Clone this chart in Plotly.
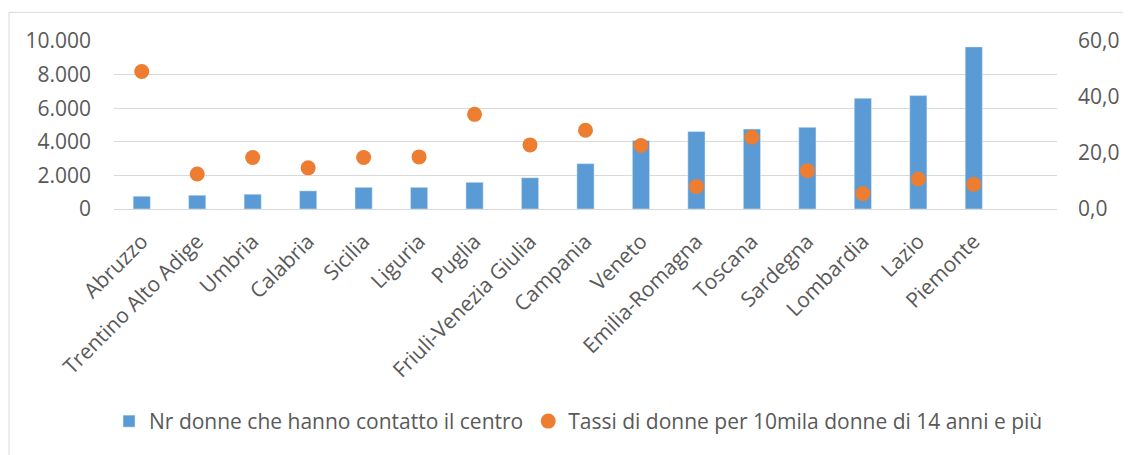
import plotly.graph_objects as go

regions = ["Abruzzo", "Trentino Alto Adige", "Umbria", "Calabria", "Sicilia", "Liguria",
           "Puglia", "Friuli-Venezia Giulia", "Campania", "Veneto", "Emilia-Romagna",
           "Toscana", "Sardegna", "Lombardia", "Lazio", "Piemonte"]
nr_donne = [760, 820, 880, 1080, 1290, 1290, 1590, 1860, 2700, 4080, 4610, 4760, 4860, 6590, 6750, 9650]
tassi = [49.1, 12.5, 18.4, 14.7, 18.4, 18.6, 33.8, 22.9, 28.1, 22.7, 8.0, 25.6, 13.7, 5.5, 10.7, 8.8]

left_tickvals = [0, 2000, 4000, 6000, 8000, 10000]
left_ticktext = ["0", "2.000", "4.000", "6.000", "8.000", "10.000"]
right_tickvals = [0, 20, 40, 60]
right_ticktext = ["0,0", "20,0", "40,0", "60,0"]

name_bar = "Nr donne che hanno contatto il centro"
name_dot = "Tassi di donne per 10mila donne di 14 anni e più"

# page body has an 8px margin: work in page pixels, then offset
OFF = 8
W, H = 1131 - OFF, 455 - OFF
PL, PR, PT, PB = 114, 1062, 41, 211  # plot area in page pixels
L, R, T, B = PL - OFF, W - (PR - OFF), PT - OFF, H - (PB - OFF)
PW, PH = PR - PL, PB - PT

font_fam = "Open Sans, Liberation Sans, sans-serif"
txt_col = "#595959"
FS = 21

fig = go.Figure()
fig.add_trace(go.Bar(x=regions, y=nr_donne, name=name_bar, marker_color="#5B9BD5",
                     width=0.31, yaxis="y"))
fig.add_trace(go.Scatter(x=regions, y=tassi, name=name_dot, mode="markers",
                         marker=dict(color="#ED7D31", size=15), yaxis="y2"))

fig.update_layout(
    width=W, height=H,
    margin=dict(l=L, r=R, t=T, b=B, pad=0),
    paper_bgcolor="white", plot_bgcolor="white",
    font=dict(family=font_fam, size=FS, color=txt_col),
    showlegend=True,
    legend=dict(orientation="h", x=(581 - PL) / PW, xanchor="center",
                y=(PB - 426) / PH, yanchor="middle",
                font=dict(size=FS, color=txt_col), itemwidth=30, tracegroupgap=0),
    xaxis=dict(type="category", range=[-0.5, 16.5], tickangle=-45, showgrid=False,
               showline=False, ticks="", ticklabelstandoff=15,
               tickfont=dict(size=FS, color=txt_col)),
    yaxis=dict(range=[0, 10000], tickvals=left_tickvals, ticktext=left_ticktext,
               showgrid=True, gridcolor="#D9D9D9", gridwidth=1, zeroline=True,
               zerolinecolor="#D9D9D9", zerolinewidth=1, ticks="", showline=False,
               ticklabelstandoff=22, tickfont=dict(size=FS, color=txt_col)),
    yaxis2=dict(range=[0, 60], tickvals=right_tickvals, ticktext=right_ticktext,
                overlaying="y", side="right", showgrid=False, zeroline=False,
                ticks="", showline=False, ticklabelstandoff=20,
                tickfont=dict(size=FS, color=txt_col)),
    bargap=0.69,
)

# chart border (Excel chart area outline): only left and top edges are in view
bx0 = (8.5 - PL) / PW
bx1 = (1140 - PL) / PW
by_top = (PB - 12) / PH
by_bot = (PB - 460) / PH
fig.add_shape(type="line", xref="paper", yref="paper", x0=bx0, x1=bx1, y0=by_top, y1=by_top,
              line=dict(color="#D9D9D9", width=1), layer="below")
fig.add_shape(type="line", xref="paper", yref="paper", x0=bx0, x1=bx0, y0=by_bot, y1=by_top,
              line=dict(color="#D9D9D9", width=1), layer="below")

fig.write_html("out.html")
